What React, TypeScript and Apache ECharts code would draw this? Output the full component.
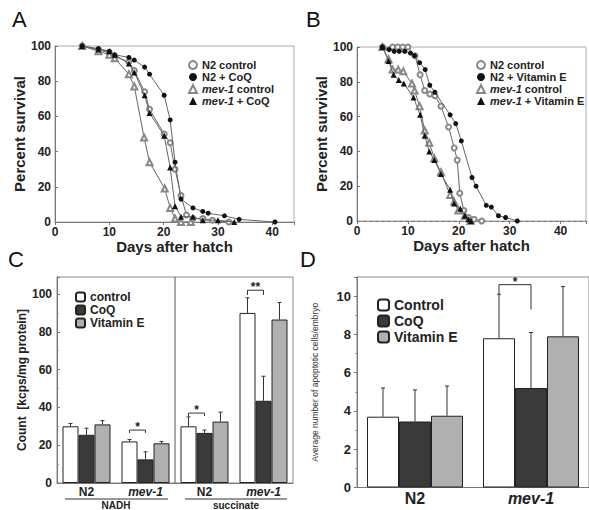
import React, { useEffect, useRef } from 'react';
import * as echarts from 'echarts';

// ---------- Panel A: survival, CoQ ----------
const aN2Control = [[5,100],[8,98],[10,96],[11,94],[13.6,91],[14.6,86],[16.5,74],[17.4,64],[20.1,50],[21.2,45],[22.1,30],[23.2,15],[24.2,4],[25.4,2],[27.2,2],[29,1],[32,0]];
const aN2CoQ = [[5,100],[8,98.5],[10,97],[11,95],[13.6,93.5],[14.6,92],[16.5,88],[17.4,84],[20.1,72],[21.2,58],[22.1,34],[23.2,13],[25.4,8],[27.2,6],[28.2,5],[31.2,3.5],[33.9,1.5],[40.5,0]];
const aMevControl = [[5,100],[8,97],[10,95],[11,93],[13.6,84],[14.6,77],[16.4,48],[17.4,34],[20.2,19],[21.2,8],[22.1,2],[23.2,0],[25,0]];
const aMevCoQ = [[5,100],[8,98],[10,97],[11,95],[13.6,90],[14.6,85],[16.5,72],[17.4,62],[20.1,49],[21.2,31],[22.1,9],[23.2,3],[25.4,3],[27.2,1],[30,1],[33,0]];

// ---------- Panel B: survival, Vitamin E ----------
const bN2Control = [[5,100],[7,100],[8,100],[9,100],[10,100],[11.4,95],[12.4,84],[13.3,75],[14.3,73],[15.3,72],[16.5,66],[18,54],[19.1,42],[19.7,35],[20.2,16],[21,6],[21.9,2],[23,1],[24.5,0]];
const bN2VitE = [[5,100],[6.3,98.5],[7.3,97.5],[8.3,97.5],[9.4,97.5],[10.5,96.5],[11.3,95],[12.3,91],[13.4,87],[14.3,78],[15.3,74],[18.3,61],[19.4,56],[20.5,46],[22.6,25],[23.4,20],[25.4,9],[26.4,8],[27.8,3],[29.2,2],[31.5,0]];
const bMevControl = [[5,100],[6.2,93],[7,87],[8.1,87],[9.1,86],[10.8,79],[11.3,75],[12.3,66],[13.3,52],[14.2,45],[15.2,36],[16.5,28],[18.3,15],[19.1,11],[19.9,6],[21.2,3],[22.3,0]];
const bMevVitE = [[5,100],[6.2,92],[7.2,84],[8.2,81],[9.2,79],[11.1,71],[12.4,61],[13.3,49],[14.2,40],[15.2,35],[16.5,27],[18.3,18],[19.1,10],[20.3,7],[21.2,3],[21.9,1],[22.4,0]];

// ---------- Panel C: counts ----------
const cCategories = ['N2', 'mev-1', 'N2', 'mev-1'];
const cGroups = ['NADH', 'succinate'];
const cControl = [30, 22, 30, 90];
const cCoQ = [25.5, 12.5, 26.5, 43.5];
const cVitE = [31, 21, 32.5, 86.5];
const cControlErr = [1.5, 1, 5, 8];
const cCoQErr = [3.5, 4, 1.5, 13];
const cVitEErr = [2, 1, 5, 9];
// [category, fromBar, toBar, bracketY, leftLegBottom, rightLegBottom, label]
const cBrackets = [
  [1, 0, 1, 28, 26.5, 26.5, '*'],
  [2, 0, 1, 37, 35.5, 35.5, '*'],
  [3, 0, 1, 102, 99.5, 99.5, '**'],
];

// ---------- Panel D: apoptotic cells ----------
const dCategories = ['N2', 'mev-1'];
const dControl = [3.7, 7.8];
const dCoQ = [3.45, 5.2];
const dVitE = [3.75, 7.9];
const dControlErr = [1.5, 2.3];
const dCoQErr = [1.65, 2.9];
const dVitEErr = [1.55, 2.6];
const dBrackets = [[1, 0, 1, 10.6, 10.1, 9.3, '*']];

const FONT = 'Liberation Sans, Arial, Helvetica, sans-serif';
const C_BAR = 16;
const D_BAR = 32;

const italicMev = (name: string) =>
  name.startsWith('mev-1') ? '{i|mev-1}' + name.slice(5) : name;

function errSeries(gridIdx: number, vals: number[], errs: number[], k: number, bw: number) {
  return {
    type: 'custom',
    xAxisIndex: gridIdx,
    yAxisIndex: gridIdx,
    z: 5,
    data: vals.map((v, i) => [i, v, errs[i]]),
    renderItem: (params: any, api: any) => {
      const cat = api.value(0);
      const v = api.value(1);
      const e = api.value(2);
      const base = api.coord([cat, v]);
      const top = api.coord([cat, v + e]);
      const x = base[0] + (k - 1) * bw;
      return {
        type: 'group',
        children: [
          { type: 'line', shape: { x1: x, y1: base[1], x2: x, y2: top[1] }, style: { stroke: '#333', lineWidth: 1 } },
          { type: 'line', shape: { x1: x - 2, y1: top[1], x2: x + 2, y2: top[1] }, style: { stroke: '#333', lineWidth: 1 } },
        ],
      };
    },
  };
}

function bracketSeries(gridIdx: number, brackets: any[], bw: number, fs: number) {
  return {
    type: 'custom',
    xAxisIndex: gridIdx,
    yAxisIndex: gridIdx,
    z: 6,
    data: brackets.map((b) => [b[0], b[3]]),
    renderItem: (params: any, api: any) => {
      const b = brackets[params.dataIndex];
      const c = api.coord([b[0], b[3]]);
      const xl = c[0] + (b[1] - 1) * bw;
      const xr = c[0] + (b[2] - 1) * bw;
      const yl = api.coord([b[0], b[4]])[1];
      const yr = api.coord([b[0], b[5]])[1];
      const st = { stroke: '#333', lineWidth: 1 };
      return {
        type: 'group',
        children: [
          { type: 'line', shape: { x1: xl, y1: c[1], x2: xr, y2: c[1] }, style: st },
          { type: 'line', shape: { x1: xl, y1: c[1], x2: xl, y2: yl }, style: st },
          { type: 'line', shape: { x1: xr, y1: c[1], x2: xr, y2: yr }, style: st },
          {
            type: 'text',
            x: (xl + xr) / 2,
            y: c[1] + 3,
            style: { text: b[6], align: 'center', verticalAlign: 'bottom', fontSize: fs, fontWeight: 'bold', fill: '#222', fontFamily: FONT },
          },
        ],
      };
    },
  };
}

// vertical divider between the NADH and succinate groups
function dividerSeries(gridIdx: number, leftCat: number, rightCat: number) {
  return {
    type: 'custom',
    xAxisIndex: gridIdx,
    yAxisIndex: gridIdx,
    z: 4,
    data: [[leftCat, 0]],
    renderItem: (params: any, api: any) => {
      const a = api.coord([leftCat, 0]);
      const b = api.coord([rightCat, 0]);
      const cs = params.coordSys;
      const x = (a[0] + b[0]) / 2;
      return { type: 'line', shape: { x1: x, y1: cs.y, x2: x, y2: cs.y + cs.height }, style: { stroke: '#555', lineWidth: 1 } };
    },
  };
}

function lineSeries(name: string, data: number[][], gridIdx: number, symbol: string, filled: boolean) {
  return {
    name,
    type: 'line',
    xAxisIndex: gridIdx,
    yAxisIndex: gridIdx,
    data,
    symbol,
    symbolSize: symbol.includes('riangle') ? 6 : 5,
    lineStyle: { color: '#666', width: 1 },
    itemStyle: filled ? { color: '#111' } : { color: '#888', borderWidth: 1 },
    z: filled ? 3 : 2,
  };
}

export default function App() {
  const ref = useRef<HTMLDivElement>(null);
  useEffect(() => {
    if (!ref.current) return;
    const chart = echarts.init(ref.current, undefined, { renderer: 'svg' });
    const axisLabel = { fontFamily: FONT, fontSize: 12, fontWeight: 'bold', color: '#222' };
    const nameStyle = { fontFamily: FONT, fontSize: 15, fontWeight: 'bold', color: '#222' };
    const legendText = (fs: number) => ({
      fontFamily: FONT,
      fontSize: fs,
      fontWeight: 'bold',
      color: '#222',
      rich: { i: { fontFamily: FONT, fontSize: fs, fontWeight: 'bold', fontStyle: 'italic', color: '#222' } },
    });
    const catLabel = (fs: number, margin: number) => ({
      interval: 0,
      fontFamily: FONT,
      fontSize: fs,
      fontWeight: 'bold',
      color: '#222',
      margin,
      formatter: italicMev,
      rich: { i: { fontFamily: FONT, fontSize: fs, fontWeight: 'bold', fontStyle: 'italic', color: '#222' } },
    });

    const survX = (gi: number, max: number, dashed: boolean) => ({
      type: 'value',
      gridIndex: gi,
      min: 0,
      max,
      interval: 10,
      name: 'Days after hatch',
      nameLocation: 'middle',
      nameGap: 15,
      nameTextStyle: nameStyle,
      axisLine: { show: true, lineStyle: { color: '#777', type: dashed ? 'dashed' : 'solid' } },
      axisTick: { show: true, length: 3, lineStyle: { color: '#777' } },
      axisLabel: { ...axisLabel, margin: 4, formatter: (v: number) => (v % 10 === 0 ? String(v) : '') },
      splitLine: { show: false },
    });
    const survY = (gi: number) => ({
      type: 'value',
      gridIndex: gi,
      min: 0,
      max: 100,
      interval: 20,
      name: 'Percent survival',
      nameLocation: 'middle',
      nameGap: 22,
      nameTextStyle: nameStyle,
      axisLine: { show: true, lineStyle: { color: '#777' } },
      axisTick: { show: true, length: 3, inside: true, lineStyle: { color: '#777' } },
      axisLabel: { ...axisLabel, margin: 4 },
      splitLine: { show: false },
    });

    chart.setOption({
      animation: false,
      backgroundColor: '#fff',
      grid: [
        { left: 55, top: 46, width: 239, height: 176, show: true, borderColor: '#aaa', borderWidth: 1 },
        { left: 357, top: 47, width: 235, height: 174, show: true, borderColor: '#aaa', borderWidth: 1 },
        { left: 57, top: 277, width: 236, height: 206, show: true, borderColor: '#888', borderWidth: 1 },
        { left: 357, top: 277, width: 238, height: 210.5, show: true, borderColor: '#888', borderWidth: 1 },
      ],
      xAxis: [
        survX(0, 44, false),
        survX(1, 45, true),
        {
          type: 'category',
          gridIndex: 2,
          data: cCategories,
          axisLine: { show: true, lineStyle: { color: '#777' } },
          axisTick: { show: false },
          axisLabel: catLabel(12, 3),
        },
        {
          type: 'category',
          gridIndex: 3,
          data: dCategories,
          axisLine: { show: true, lineStyle: { color: '#777' } },
          axisTick: { show: false },
          axisLabel: catLabel(16, 3),
        },
      ],
      yAxis: [
        survY(0),
        survY(1),
        {
          type: 'value',
          gridIndex: 2,
          min: 0,
          max: 109,
          interval: 20,
          name: 'Count  [kcps/mg protein]',
          nameLocation: 'middle',
          nameGap: 24,
          nameTextStyle: { ...nameStyle, fontSize: 12 },
          axisLine: { show: true, lineStyle: { color: '#777' } },
          axisTick: { show: true, length: 3, inside: true, lineStyle: { color: '#777' } },
          minorTick: { show: true, splitNumber: 2, length: 2, lineStyle: { color: '#999' } },
          axisLabel: { ...axisLabel, margin: 5, formatter: (v: number) => (v % 20 === 0 && v <= 100 ? String(v) : '') },
          splitLine: { show: false },
        },
        {
          type: 'value',
          gridIndex: 3,
          min: 0,
          max: 11,
          interval: 2,
          name: 'Average number of apoptotic cells/embryo',
          nameLocation: 'middle',
          nameGap: 38,
          nameTextStyle: { fontFamily: FONT, fontSize: 8.5, color: '#333' },
          axisLine: { show: true, lineStyle: { color: '#777' } },
          axisTick: { show: true, length: 3, inside: false, lineStyle: { color: '#777' } },
          minorTick: { show: true, splitNumber: 2, length: 2, lineStyle: { color: '#999' } },
          axisLabel: { ...axisLabel, fontSize: 13, margin: 6, formatter: (v: number) => (v % 2 === 0 && v <= 10 ? String(v) : '') },
          splitLine: { show: false },
        },
      ],
      legend: [
        {
          data: [
            { name: 'N2 control', icon: 'emptyCircle' },
            { name: 'N2 + CoQ', icon: 'circle' },
            { name: 'mev-1 control', icon: 'emptyTriangle' },
            { name: 'mev-1 + CoQ', icon: 'triangle' },
          ],
          orient: 'vertical',
          left: 183,
          top: 54,
          itemWidth: 8,
          itemHeight: 8,
          itemGap: 0,
          selectedMode: false,
          formatter: italicMev,
          textStyle: { ...legendText(11), lineHeight: 12 },
        },
        {
          data: [
            { name: 'N2 control', icon: 'emptyCircle' },
            { name: 'N2 + Vitamin E', icon: 'circle' },
            { name: 'mev-1 control', icon: 'emptyTriangle' },
            { name: 'mev-1 + Vitamin E', icon: 'triangle' },
          ],
          orient: 'vertical',
          left: 471,
          top: 54,
          itemWidth: 8,
          itemHeight: 8,
          itemGap: 0,
          selectedMode: false,
          formatter: italicMev,
          textStyle: { ...legendText(11), lineHeight: 12 },
        },
        {
          data: ['control', 'CoQ', 'Vitamin E'],
          orient: 'vertical',
          left: 70,
          top: 286,
          itemWidth: 9,
          itemHeight: 9,
          itemGap: 1,
          selectedMode: false,
          textStyle: { ...legendText(12), lineHeight: 12 },
        },
        {
          data: ['Control', 'CoQ', 'Vitamin E'],
          orient: 'vertical',
          left: 372,
          top: 293,
          itemWidth: 11,
          itemHeight: 11,
          itemGap: 2,
          selectedMode: false,
          textStyle: { ...legendText(14), lineHeight: 14 },
        },
      ],
      graphic: [
        { type: 'text', left: 12, top: 8, style: { text: 'A', fontSize: 22, fontFamily: FONT, fill: '#111' } },
        { type: 'text', left: 306, top: 8, style: { text: 'B', fontSize: 22, fontFamily: FONT, fill: '#111' } },
        { type: 'text', left: 8, top: 248, style: { text: 'C', fontSize: 22, fontFamily: FONT, fill: '#111' } },
        { type: 'text', left: 300, top: 248, style: { text: 'D', fontSize: 22, fontFamily: FONT, fill: '#111' } },
        { type: 'line', shape: { x1: 65, y1: 499, x2: 168, y2: 499 }, style: { stroke: '#333', lineWidth: 1.2 } },
        { type: 'line', shape: { x1: 185, y1: 499, x2: 287, y2: 499 }, style: { stroke: '#333', lineWidth: 1.2 } },
        { type: 'text', x: 116, y: 500, style: { text: cGroups[0], align: 'center', fontSize: 10, fontWeight: 'bold', fontFamily: FONT, fill: '#222' } },
        { type: 'text', x: 236, y: 500, style: { text: cGroups[1], align: 'center', fontSize: 10, fontWeight: 'bold', fontFamily: FONT, fill: '#222' } },
      ],
      series: [
        lineSeries('N2 control', aN2Control, 0, 'emptyCircle', false),
        lineSeries('mev-1 control', aMevControl, 0, 'emptyTriangle', false),
        lineSeries('N2 + CoQ', aN2CoQ, 0, 'circle', true),
        lineSeries('mev-1 + CoQ', aMevCoQ, 0, 'triangle', true),
        lineSeries('N2 control', bN2Control, 1, 'emptyCircle', false),
        lineSeries('mev-1 control', bMevControl, 1, 'emptyTriangle', false),
        lineSeries('N2 + Vitamin E', bN2VitE, 1, 'circle', true),
        lineSeries('mev-1 + Vitamin E', bMevVitE, 1, 'triangle', true),
        { name: 'control', type: 'bar', xAxisIndex: 2, yAxisIndex: 2, data: cControl, barWidth: C_BAR, barGap: '0%', itemStyle: { color: '#fff', borderColor: '#222', borderWidth: 1 } },
        { name: 'CoQ', type: 'bar', xAxisIndex: 2, yAxisIndex: 2, data: cCoQ, barWidth: C_BAR, barGap: '0%', itemStyle: { color: '#3a3a3a', borderColor: '#222', borderWidth: 1 } },
        { name: 'Vitamin E', type: 'bar', xAxisIndex: 2, yAxisIndex: 2, data: cVitE, barWidth: C_BAR, barGap: '0%', itemStyle: { color: '#b0b0b0', borderColor: '#222', borderWidth: 1 } },
        errSeries(2, cControl, cControlErr, 0, C_BAR),
        errSeries(2, cCoQ, cCoQErr, 1, C_BAR),
        errSeries(2, cVitE, cVitEErr, 2, C_BAR),
        bracketSeries(2, cBrackets, C_BAR, 12),
        dividerSeries(2, 1, 2),
        { name: 'Control', type: 'bar', xAxisIndex: 3, yAxisIndex: 3, data: dControl, barWidth: D_BAR, barGap: '0%', itemStyle: { color: '#fff', borderColor: '#222', borderWidth: 1 } },
        { name: 'CoQ', type: 'bar', xAxisIndex: 3, yAxisIndex: 3, data: dCoQ, barWidth: D_BAR, barGap: '0%', itemStyle: { color: '#3a3a3a', borderColor: '#222', borderWidth: 1 } },
        { name: 'Vitamin E', type: 'bar', xAxisIndex: 3, yAxisIndex: 3, data: dVitE, barWidth: D_BAR, barGap: '0%', itemStyle: { color: '#b0b0b0', borderColor: '#222', borderWidth: 1 } },
        errSeries(3, dControl, dControlErr, 0, D_BAR),
        errSeries(3, dCoQ, dCoQErr, 1, D_BAR),
        errSeries(3, dVitE, dVitEErr, 2, D_BAR),
        bracketSeries(3, dBrackets, D_BAR, 12),
      ],
    });
    return () => chart.dispose();
  }, []);
  return <div ref={ref} style={{ position: 'absolute', left: 0, top: 0, width: 589, height: 510 }} />;
}
